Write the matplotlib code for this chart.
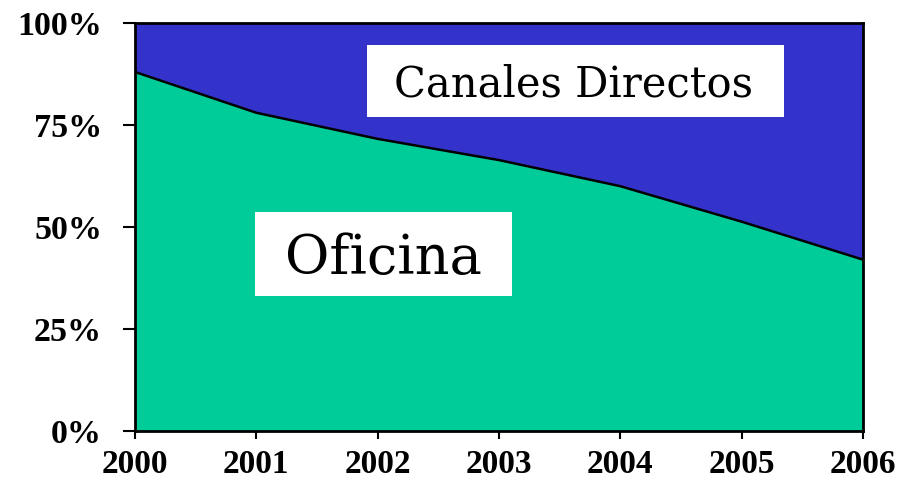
import matplotlib
matplotlib.use("Agg")
import matplotlib.pyplot as plt
from matplotlib.patches import Rectangle

years = [2000, 2001, 2002, 2003, 2004, 2005, 2006]
oficina = [88, 78, 71.6, 66.4, 60.0, 51.3, 42.0]
canales = [100 - v for v in oficina]
y_ticks = [0, 25, 50, 75, 100]
y_labels = ["0%", "25%", "50%", "75%", "100%"]

fig = plt.figure(figsize=(9.12, 4.86), dpi=100)
ax = fig.add_axes([135/912, 55/486, 728/912, 408/486])

ax.stackplot(years, oficina, canales, colors=["#00CC99", "#3333CC"], linewidth=0)
ax.plot(years, oficina, color="black", lw=1.8)

ax.set_xlim(years[0], years[-1])
ax.set_ylim(0, 100)
ax.set_xticks(years)
ax.set_xticklabels([str(y) for y in years])
ax.set_yticks(y_ticks)
ax.set_yticklabels(y_labels)
for s in ax.spines.values():
    s.set_linewidth(2)
    s.set_color("black")
ax.tick_params(axis="both", direction="out", width=1.5, color="black")
ax.tick_params(axis="y", length=8.6, pad=15)
ax.tick_params(axis="x", length=5.8, pad=7)
for lab in ax.get_yticklabels():
    lab.set_fontfamily("Liberation Serif")
    lab.set_fontweight("bold")
    lab.set_fontsize(24.5)
for lab in ax.get_xticklabels():
    lab.set_fontfamily("Liberation Serif")
    lab.set_fontweight("bold")
    lab.set_fontsize(24)

# white label boxes
ax.add_patch(Rectangle((2001.91, 77.0), 3.44, 17.5, facecolor="white",
                       edgecolor="none", zorder=3))
ax.add_patch(Rectangle((2000.99, 33.1), 2.12, 20.6, facecolor="white",
                       edgecolor="none", zorder=3))
ax.text(2003.61, 82.1, "Canales Directos", fontsize=30, family="DejaVu Serif",
        ha="center", va="baseline", zorder=4)
ax.text(2002.05, 38.5, "Oficina", fontsize=39, family="DejaVu Serif",
        ha="center", va="baseline", zorder=4)

fig.savefig("out.png", dpi=100)
